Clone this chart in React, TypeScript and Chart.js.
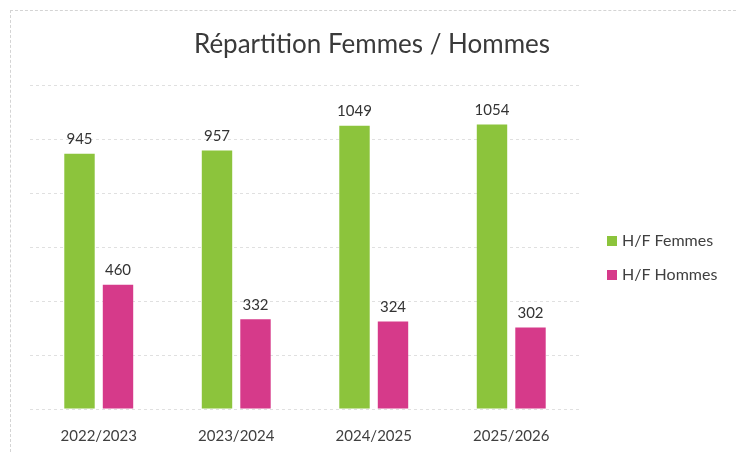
import React, { useEffect, useRef } from "react";
import { Chart, registerables } from "chart.js";

Chart.register(...registerables);

const title = "Répartition Femmes / Hommes";
const categories = ["2022/2023", "2023/2024", "2024/2025", "2025/2026"];
const seriesNames = ["H/F Femmes", "H/F Hommes"];
const femmes = [945, 957, 1049, 1054];
const hommes = [460, 332, 324, 302];
const seriesColors = ["#8cc43c", "#d63a8a"];
const yMax = 1200;
const yStep = 200;

const FONT = "Lato, 'Open Sans', sans-serif";

const valueLabels = {
  id: "valueLabels",
  afterDatasetsDraw(chart: any) {
    const ctx = chart.ctx;
    ctx.save();
    ctx.font = `15px ${FONT}`;
    ctx.fillStyle = "#333333";
    ctx.textAlign = "center";
    ctx.textBaseline = "bottom";
    chart.data.datasets.forEach((ds: any, i: number) => {
      const meta = chart.getDatasetMeta(i);
      meta.data.forEach((bar: any, j: number) => {
        ctx.fillText(String(ds.data[j]), bar.x, bar.y - 7);
      });
    });
    ctx.restore();
  },
};

const titleAndLegend = {
  id: "titleAndLegend",
  afterDraw(chart: any) {
    const ctx = chart.ctx;
    const area = chart.chartArea;
    ctx.save();
    // title
    ctx.font = `26px ${FONT}`;
    ctx.fillStyle = "#3a3a3a";
    ctx.textAlign = "center";
    ctx.textBaseline = "middle";
    ctx.fillText(title, 372, 45);
    // legend
    ctx.font = `16px ${FONT}`;
    ctx.textBaseline = "middle";
    ctx.textAlign = "left";
    const x0 = area.right + 27;
    const yCenter = 258;
    const gap = 34;
    chart.data.datasets.forEach((ds: any, i: number) => {
      const y = yCenter - gap / 2 + i * gap;
      ctx.fillStyle = ds.backgroundColor;
      ctx.fillRect(x0, y - 5, 10, 10);
      ctx.fillStyle = "#404040";
      ctx.fillText(ds.label, x0 + 15, y);
    });
    ctx.restore();
  },
};

export default function App() {
  const canvasRef = useRef<HTMLCanvasElement | null>(null);

  useEffect(() => {
    if (!canvasRef.current) return;
    const chart = new Chart(canvasRef.current, {
      type: "bar",
      data: {
        labels: categories,
        datasets: [
          {
            label: seriesNames[0],
            data: femmes,
            backgroundColor: seriesColors[0],
            barPercentage: 0.79,
            categoryPercentage: 0.56,
          },
          {
            label: seriesNames[1],
            data: hommes,
            backgroundColor: seriesColors[1],
            barPercentage: 0.79,
            categoryPercentage: 0.56,
          },
        ],
      },
      options: {
        animation: false,
        responsive: false,
        maintainAspectRatio: false,
        layout: { padding: { left: 30, right: 156, top: 85, bottom: 0 } },
        plugins: {
          legend: { display: false },
          tooltip: { enabled: false },
          title: { display: false },
        },
        scales: {
          x: {
            grid: { display: false, drawTicks: false },
            border: { display: false },
            ticks: {
              color: "#404040",
              font: { family: FONT, size: 15 },
              padding: 18,
            },
            afterFit: (scale: any) => {
              scale.height = 43;
            },
          },
          y: {
            min: 0,
            max: yMax,
            ticks: { display: false, stepSize: yStep },
            border: { display: false, dash: [3, 3] },
            grid: {
              drawTicks: false,
              color: "rgba(0,0,0,0.12)",
            },
          },
        },
      } as any,
      plugins: [valueLabels, titleAndLegend],
    });
    return () => chart.destroy();
  }, []);

  return (
    <div style={{ position: "absolute", left: 0, top: 0, width: 736, height: 452, background: "#ffffff" }}>
      <div
        style={{
          position: "absolute",
          left: 10,
          top: 10,
          right: 0,
          bottom: 0,
          borderTop: "1px dashed #d4d4d4",
          borderLeft: "1px dashed #d4d4d4",
        }}
      />
      <canvas ref={canvasRef} width={736} height={452} style={{ position: "absolute", left: 0, top: 0 }} />
    </div>
  );
}
